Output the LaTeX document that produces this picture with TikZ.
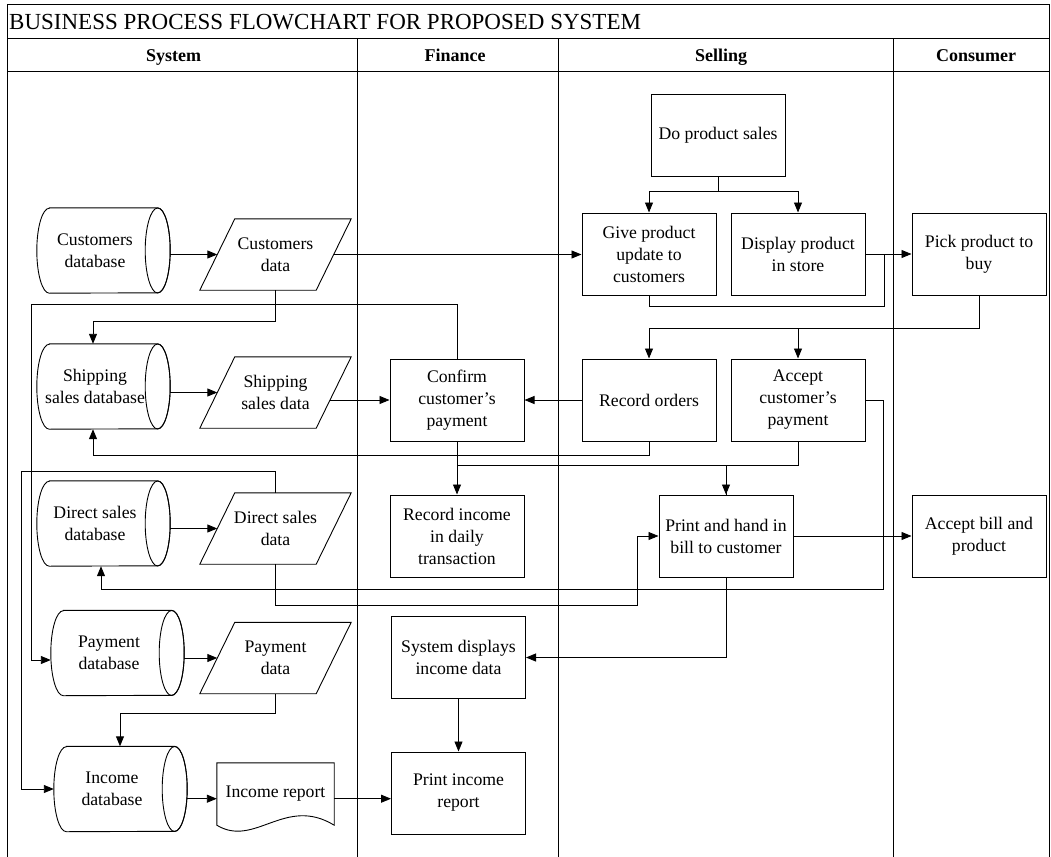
\documentclass[tikz,border=0pt]{standalone}
\usepackage{fontspec}
\setmainfont{Liberation Serif}
\usetikzlibrary{arrows.meta,calc}

\begin{document}
\begin{tikzpicture}[x=1pt,y=-1pt,
  every node/.style={inner sep=0pt},
  txt/.style={font=\fontsize{17.7}{22}\selectfont, align=center},
  proc/.style={txt, draw, line width=1pt, minimum width=134pt, minimum height=82pt},
  dbase/.style={txt, minimum width=116pt, minimum height=85pt},
  iodata/.style={txt, minimum width=116pt, minimum height=71pt},
  docu/.style={txt, minimum width=117pt, minimum height=62pt},
  flow/.style={line width=0.9pt},
  arr/.style={flow, -{Triangle[length=10pt,width=8pt]}},
  lane/.style={line width=1pt},
  lanehead/.style={font=\fontsize{18}{22}\selectfont\bfseries, anchor=base}
]
\useasboundingbox (0,0) rectangle (1051,856);

% frame, title row and swimlanes
\draw[lane] (7,860) -- (7,5) -- (1049,5) -- (1049,860);
\draw[lane] (7,39) -- (1049,39);
\draw[lane] (7,72) -- (1049,72);
\foreach \x in {357,558,893} \draw[lane] (\x,39) -- (\x,860);

\node[anchor=base west, font=\fontsize{23}{27}\selectfont] (title) at (9,30)
  {BUSINESS PROCESS FLOWCHART FOR PROPOSED SYSTEM};
\node[lanehead] (hsys) at (173.5,62) {System};
\node[lanehead] (hfin) at (455,62) {Finance};
\node[lanehead] (hsel) at (721,62) {Selling};
\node[lanehead] (hcon) at (976,62) {Consumer};

% System lane: databases (text box; the end ellipse sits 4.5pt right of its east side)
\node[dbase] (cdb)  at (95,250.5)  {Customers\\database};
\node[dbase] (ssdb) at (95,386.5)  {Shipping\\sales database};
\node[dbase] (dsdb) at (95,523.5)  {Direct sales\\database};
\node[dbase] (pdb)  at (109,653)   {Payment\\database};
\node[dbase] (idb)  at (112,789)   {Income\\database};

\foreach \n in {cdb,ssdb,dsdb,pdb,idb}{
  \draw[flow] ([xshift=12.5pt]\n.north west) -- ([xshift=4.5pt]\n.north east)
     arc[start angle=90,end angle=-90,x radius=12.5pt,y radius=42.5pt]
     -- ([xshift=12.5pt]\n.south west)
     arc[start angle=270,end angle=90,x radius=12.5pt,y radius=42.5pt] -- cycle;
  \draw[flow] ([xshift=4.5pt]\n.east) ellipse[x radius=12.5pt,y radius=42.5pt];
  \coordinate (\n-r) at ([xshift=17pt]\n.east);
}

% System lane: data
\node[iodata] (cd)  at (275.5,254.5) {Customers\\data};
\node[iodata] (ssd) at (275.5,392.5) {Shipping\\sales data};
\node[iodata] (dsd) at (275.5,528.5) {Direct sales\\data};
\node[iodata] (pd)  at (275.5,658)   {Payment\\data};

\foreach \n in {cd,ssd,dsd,pd}{
  \draw[flow] ([xshift=17.5pt]\n.north west) -- ([xshift=17.5pt]\n.north east)
     -- ([xshift=-17.5pt]\n.south east) -- ([xshift=-17.5pt]\n.south west) -- cycle;
}

% income report document
\node[docu] (ir) at (275.5,794) {Income report};
\draw[flow] (ir.north west) -- (ir.north east) -- (ir.south east)
   .. controls ($(ir.south east)+(-49,-30)$) and ($(ir.south west)+(38,23)$) .. (ir.south west) -- cycle;

% Finance lane
\node[proc] (ccp)   at (457,400)     {Confirm\\customer’s\\payment};
\node[proc] (ri)    at (457,536)     {Record income\\in daily\\transaction};
\node[proc] (sdi)   at (458.5,657.5) {System displays\\income data};
\node[proc] (pir)   at (458.5,793)   {Print income\\report};

% Selling lane
\node[proc] (dps)   at (718,135.5) {Do product sales};
\node[proc] (gpu)   at (649,254)   {Give product\\update to\\customers};
\node[proc] (dpi)   at (798,254)   {Display product\\in store};
\node[proc] (ro)    at (649,400)   {Record orders};
\node[proc] (acp)   at (798,400)   {Accept\\customer’s\\payment};
\node[proc] (pbill) at (726,536)   {Print and hand in\\bill to customer};

% Consumer lane
\node[proc] (pick)  at (979,254) {Pick product to\\buy};
\node[proc] (abp)   at (979,536) {Accept bill and\\product};

% connectors
\draw[arr] (cdb-r |- cd.west) -- (cd.west);
\draw[arr] (cd.east) -- (cd.east -| gpu.west);
\draw[flow] (dps.south) -- ++(0,14) coordinate (j1);
\draw[arr] (j1) -| (gpu.north);
\draw[arr] (j1) -| (dpi.north);
\draw[arr] (dpi.east) -- (pick.west);
\coordinate (j2) at ($(dpi.east)+(19,0)$);
\draw[flow] (gpu.south) -- ++(0,11) -| (j2);
\draw[flow] (pick.south) -- ++(0,33) coordinate (j3);
\draw[arr] (j3) -| (ro.north);
\draw[arr] (j3) -| (acp.north);
\draw[arr] (cd.south) -- ++(0,31) -| ([xshift=-2pt]ssdb.north);
\draw[arr] (ccp.north) -- ++(0,-54) -| ($(pdb.west)+(-19,7)$) -- ($(pdb.west)+(0,7)$);
\draw[arr] (pdb-r |- pd.west) -- (pd.west);
\draw[arr] (ssdb-r |- ssd.west) -- (ssd.west);
\draw[arr] ($(ssd.east)+(-3.7,7.5)$) -- (ccp.west);
\draw[arr] (ro.west) -- (ccp.east);
\draw[arr] (ro.south) -- ++(0,14) -| ([xshift=-2pt]ssdb.south);
\draw[arr] (ccp.south) -- (ri.north);
\draw[arr] (acp.south) -- ++(0,24) -| (pbill.north);
\draw[flow] (ccp.south) ++(0,24) -| (pbill.north);
\draw[arr] (acp.east) -| ++(18,189) -| ([xshift=6pt]dsdb.south);
\draw[arr] (dsdb-r |- dsd.west) -- (dsd.west);
\draw[arr] (dsd.north) -- ++(0,-21) -| ($(idb.west)+(-32,0)$) -- (idb.west);
\draw[arr] (dsd.south) |- ($(pbill.west)+(-21,69)$) |- (pbill.west);
\draw[arr] (pbill.east) -- (abp.west);
\draw[arr] (pbill.south) |- (sdi.east);
\draw[arr] (sdi.south) -- (pir.north);
\draw[arr] (pd.south) -- ++(0,20) -| ([xshift=8pt]idb.north);
\coordinate (irin) at ([yshift=-4.7pt]ir.west);
\coordinate (irout) at ([yshift=-4.7pt]ir.east);
\draw[arr] (idb-r |- irin) -- (irin);
\draw[arr] (irout) -- (irout -| pir.west);
\end{tikzpicture}
\end{document}
